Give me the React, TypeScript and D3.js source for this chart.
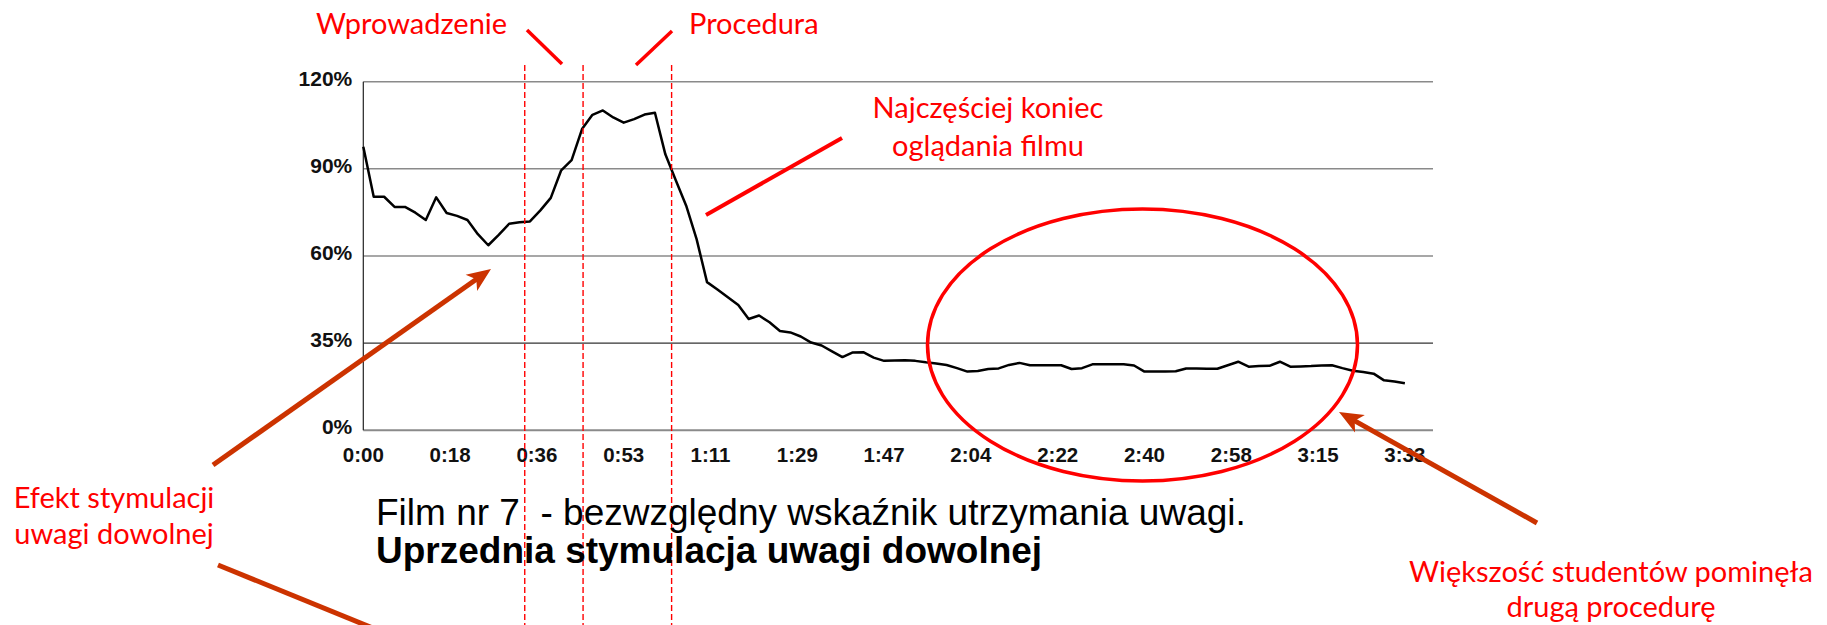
import * as d3 from "d3";

// attention retention (% of viewers, on the chart's 0..120 grid), one sample per ~2.1 s
const attention = [
  97.6, 80.4, 80.4, 76.9, 76.9, 74.9, 72.4, 80.2, 74.8, 73.8,
  72.4, 67.5, 63.7, 67.3, 71.1, 71.6, 71.9, 75.7, 80.0, 89.5,
  93.0, 103.7, 108.6, 110.1, 107.7, 105.9, 107.1, 108.7, 109.3, 95.0,
  86.1, 77.3, 65.8, 51.0, 48.5, 45.8, 43.1, 38.3, 39.5, 37.2,
  34.2, 33.7, 32.3, 30.2, 29.2, 27.2, 25.2, 26.8, 26.9, 25.0,
  23.9, 24.0, 24.1, 23.9, 23.4, 23.0, 22.5, 21.4, 20.2, 20.4,
  21.1, 21.3, 22.5, 23.2, 22.4, 22.4, 22.4, 22.4, 21.1, 21.4,
  22.7, 22.7, 22.7, 22.7, 22.3, 20.2, 20.2, 20.2, 20.3, 21.3,
  21.3, 21.2, 21.2, 22.4, 23.6, 21.9, 22.1, 22.2, 23.6, 21.9,
  22.0, 22.1, 22.3, 22.4, 21.4, 20.5, 20.1, 19.5, 17.2, 16.8,
  16.2
];

const timeLabels = [
  "0:00", "0:18", "0:36", "0:53", "1:11", "1:29", "1:47",
  "2:04", "2:22", "2:40", "2:58", "3:15", "3:33"
];

const yTicks = [0, 30, 60, 90, 120];
const yTickLabels = ["0%", "35%", "60%", "90%", "120%"];

// phase boundaries (sample index): start of intro, start of procedure, end of procedure
const phaseMarks = [15.5, 21.1, 29.6];

const red = "#FF0000";
const rust = "#CC3300";
const annoFont = "Lato, 'Open Sans', sans-serif";
const axisFont = "'Liberation Sans', Arial, sans-serif";

function Arrow({ x1, y1, x2, y2 }) {
  // shaft stops short of the tip so the head stays sharp
  const len = Math.hypot(x2 - x1, y2 - y1);
  const ux = (x2 - x1) / len, uy = (y2 - y1) / len;
  const head = 24, half = 10;
  const bx = x2 - ux * head, by = y2 - uy * head;
  const nx = -uy, ny = ux;
  const notchX = x2 - ux * head * 0.75, notchY = y2 - uy * head * 0.75;
  return (
    <g>
      <line x1={x1} y1={y1} x2={x2 - ux * 14} y2={y2 - uy * 14} stroke={rust} strokeWidth={5} />
      <path
        d={`M${x2},${y2} L${bx + nx * half},${by + ny * half} L${notchX},${notchY} L${bx - nx * half},${by - ny * half} Z`}
        fill={rust}
      />
    </g>
  );
}

export default function App() {
  const width = 1827;
  const height = 625;
  const marginLeft = 363.3;
  const plotRight = 1433;
  const plotTop = 81.7;
  const plotBottom = 430.3;

  const lastIdx = attention.length - 1;
  const x = d3.scaleLinear().domain([0, 102.7]).range([marginLeft, plotRight]);
  const y = d3.scaleLinear().domain([0, 120]).range([plotBottom, plotTop]);

  const line = d3.line<number>((d, i) => x(i), d => y(d));
  const labelStep = lastIdx / (timeLabels.length - 1);

  return (
    <svg
      width={width}
      height={height}
      style={{ position: "absolute", left: 0, top: 0, background: "#fff" }}
    >
      {/* grid */}
      <g>
        {yTicks.map((t, i) => (
          <line
            key={i}
            x1={marginLeft}
            x2={plotRight}
            y1={y(t)}
            y2={y(t)}
            stroke={t === 30 ? "#333" : "#8a8a8a"}
            strokeWidth={t === 30 ? 1.2 : t === 0 ? 2 : 1.5}
          />
        ))}
        <line x1={marginLeft} x2={marginLeft} y1={plotTop} y2={plotBottom} stroke="#222" strokeWidth={1.2} />
      </g>

      {/* y labels */}
      <g fontFamily={axisFont} fontWeight="bold" fontSize={21} fill="#111" textAnchor="end">
        {yTicks.map((t, i) => (
          <text key={i} x={marginLeft - 11} y={y(t) + 4}>
            {yTickLabels[i]}
          </text>
        ))}
      </g>

      {/* x labels */}
      <g fontFamily={axisFont} fontWeight="bold" fontSize={20.5} fill="#111" textAnchor="middle">
        {timeLabels.map((l, i) => (
          <text key={i} x={x(i * labelStep)} y={462}>
            {l}
          </text>
        ))}
      </g>

      {/* series */}
      <path d={line(attention) ?? ""} fill="none" stroke="#000" strokeWidth={2.5} strokeLinejoin="round" />

      {/* phase boundaries */}
      <g stroke={red} strokeWidth={1.4} strokeDasharray="6 3">
        {phaseMarks.map((m, i) => (
          <line key={i} x1={x(m)} x2={x(m)} y1={65} y2={height} />
        ))}
      </g>

      {/* title */}
      <g fontFamily={axisFont} fontSize={37} fill="#000">
        <text x={376} y={525}>{"Film nr 7\u00a0 - bezwzględny wskaźnik utrzymania uwagi."}</text>
        <text x={376} y={563} fontWeight="bold">Uprzednia stymulacja uwagi dowolnej</text>
      </g>

      {/* annotations */}
      <g fontFamily={annoFont} fontSize={29} fill={red}>
        <text x={316} y={34}>Wprowadzenie</text>
        <text x={689} y={34}>Procedura</text>
        <text x={988} y={118} textAnchor="middle">Najczęściej koniec</text>
        <text x={988} y={156} textAnchor="middle">oglądania filmu</text>
        <text x={114} y={508} textAnchor="middle">Efekt stymulacji</text>
        <text x={114} y={544} textAnchor="middle">uwagi dowolnej</text>
        <text x={1611} y={582} textAnchor="middle">Większość studentów pominęła</text>
        <text x={1611} y={617} textAnchor="middle">drugą procedurę</text>
      </g>

      <g stroke={red} strokeWidth={3.5} fill="none">
        <line x1={527} y1={30} x2={562} y2={64} />
        <line x1={672} y1={31} x2={636} y2={65} />
        <line x1={842} y1={138} x2={706} y2={215} strokeWidth={4} />
        <ellipse cx={1142.5} cy={345} rx={215} ry={136} />
      </g>

      <Arrow x1={213} y1={465} x2={491} y2={269} />
      <Arrow x1={1537} y1={523} x2={1339} y2={412} />
      <line x1={218} y1={565} x2={380} y2={631} stroke={rust} strokeWidth={5} />
    </svg>
  );
}
